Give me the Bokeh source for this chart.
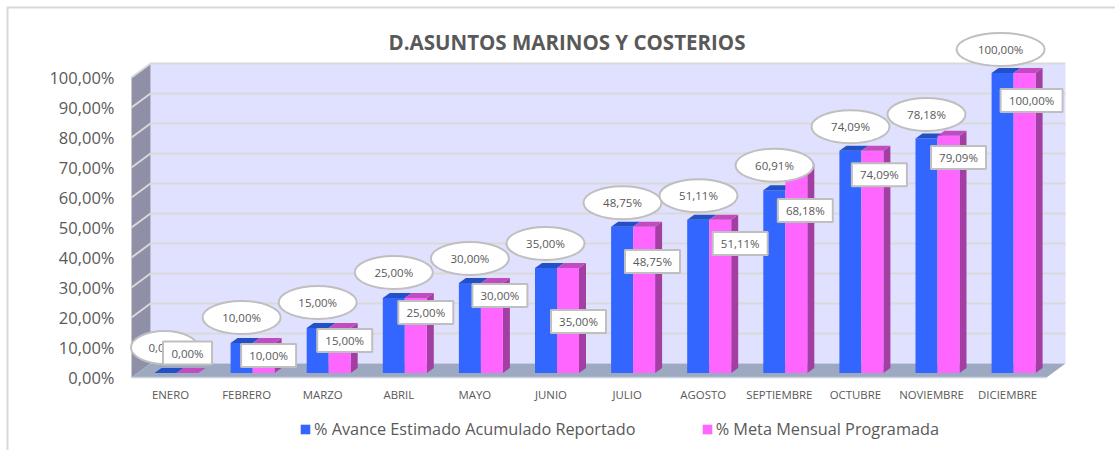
from bokeh.plotting import figure
from bokeh.models import (ColumnDataSource, Range1d, FixedTicker, Legend, LegendItem, Label)
from bokeh.embed import file_html
from bokeh.resources import INLINE
from bokeh.core.properties import value

months = ["ENERO", "FEBRERO", "MARZO", "ABRIL", "MAYO", "JUNIO", "JULIO", "AGOSTO",
          "SEPTIEMBRE", "OCTUBRE", "NOVIEMBRE", "DICIEMBRE"]
avance = [0, 10, 15, 25, 30, 35, 48.75, 51.11, 60.91, 74.09, 78.18, 100]
meta = [0, 10, 15, 25, 30, 35, 48.75, 51.11, 68.18, 74.09, 79.09, 100]
avance_labels = ["0,00%", "10,00%", "15,00%", "25,00%", "30,00%", "35,00%", "48,75%", "51,11%",
                 "60,91%", "74,09%", "78,18%", "100,00%"]
meta_labels = ["0,00%", "10,00%", "15,00%", "25,00%", "30,00%", "35,00%", "48,75%", "51,11%",
               "68,18%", "74,09%", "79,09%", "100,00%"]
y_ticks = [0, 10, 20, 30, 40, 50, 60, 70, 80, 90, 100]
y_tick_labels = ["0,00%", "10,00%", "20,00%", "30,00%", "40,00%", "50,00%", "60,00%", "70,00%",
                 "80,00%", "90,00%", "100,00%"]
title_text = "D.ASUNTOS MARINOS Y COSTERIOS"
series_names = ["% Avance Estimado Acumulado Reportado", "% Meta Mensual Programada"]

# layout (pixels)
W, H = 1115, 450
LEFT, RIGHT, BOTTOM = 131, 1065, 377
PX_X, PX_Y = 76.1, 3.0          # pixels per month, pixels per percentage point
X0 = 170                        # pixel of the first month tick
WALL_DX, WALL_DY = 19 / PX_X, 14 / PX_Y
BAR_W = 22 / PX_X
BAR_SHIFT = 6 / PX_X            # bars sit slightly right of their tick
BAR_BASE = 1.5                  # bars stand on the floor, slightly behind its front
BAR_DX, BAR_DY = 7 / PX_X, 5 / PX_Y


def fx(px_value):
    return (px_value - X0) / PX_X


def fy(px_value):
    return (BOTTOM - px_value) / PX_Y


# label placement: pixels from the top of the bar
oval_dx = [-12, -11, -11, -11, -11, -11.5, -10.6, -10.7, -10.8, -10.9, -11, -13]
oval_dy = [25.5, 25.5, 25.5, 25.5, 24.5, 24.5, 24, 24, 25, 24, 24, 23.5]
rect_dx = [11, 16, 16, 21, 19, 21.5, 19.4, 31, 20, 18, 21, 18]
rect_dy = [20, -12.5, -12.5, -14.5, -12.5, -53.5, -34.75, -23.8, -42, -24, -21.8, -27.5]

p = figure(width=W, height=H, output_backend="svg", toolbar_location=None,
           x_range=Range1d(fx(0), fx(W)), y_range=Range1d(fy(H), fy(0)),
           min_border_left=0, min_border_right=0, min_border_top=0, min_border_bottom=0,
           outline_line_color=None, background_fill_color="white", border_fill_color="white")
p.grid.visible = False

FONT = value("Open Sans")
GREY = "#595959"
GRID = "#d9d9d9"

# chart area border
p.patch([fx(6), fx(W), fx(W), fx(8), fx(8), fx(6)], [fy(6), fy(6), fy(8), fy(8), fy(H), fy(H)],
        fill_color=GRID, line_color=None)

# walls and floor
x_l, x_b, x_r = fx(LEFT), fx(LEFT) + WALL_DX, fx(RIGHT)
x_fr = x_r - WALL_DX
top_f, top_b = 100, 100 + WALL_DY
p.patch([x_b, x_r, x_r, x_b], [WALL_DY, WALL_DY, top_b, top_b], fill_color="#e0e0ff", line_color=None)
p.patch([x_l, x_b, x_b, x_l], [0, WALL_DY, top_b, top_f], fill_color="#8f8fa8", line_color=None)
p.patch([x_l, x_fr, x_r, x_b], [0, 0, WALL_DY, WALL_DY], fill_color="#9ca9c1", line_color=None)
p.multi_line([[x_l, x_b, x_r] for t in y_ticks[1:]],
             [[t, t + WALL_DY, t + WALL_DY] for t in y_ticks[1:]],
             line_color=GRID, line_width=2)
p.line([x_l, x_fr], [0, 0], line_color="#c8d0de", line_width=1.5)

# bars
centers = [i + BAR_SHIFT for i in range(len(months))]
blue_src = ColumnDataSource(dict(x=[c - BAR_W / 2 for c in centers], top=[v + BAR_BASE for v in avance]))
pink_src = ColumnDataSource(dict(x=[c + BAR_W / 2 for c in centers], top=[v + BAR_BASE for v in meta]))


def tops(cols, vals):
    return ([[c - BAR_W / 2, c + BAR_W / 2, c + BAR_W / 2 + BAR_DX, c - BAR_W / 2 + BAR_DX] for c in cols],
            [[v + BAR_BASE, v + BAR_BASE, v + BAR_BASE + BAR_DY, v + BAR_BASE + BAR_DY] for v in vals])


def sides(cols, vals):
    return ([[c + BAR_W / 2, c + BAR_W / 2 + BAR_DX, c + BAR_W / 2 + BAR_DX, c + BAR_W / 2] for c in cols],
            [[BAR_BASE, BAR_BASE + BAR_DY, v + BAR_BASE + BAR_DY, v + BAR_BASE] for v in vals])


bx = [c - BAR_W / 2 for c in centers]
px = [c + BAR_W / 2 for c in centers]
r_blue = p.vbar(x="x", top="top", bottom=BAR_BASE, width=BAR_W, source=blue_src,
                fill_color="#3366ff", line_color=None)
xs, ys = tops(bx, avance)
p.patches(xs, ys, fill_color="#2350c4", line_color=None)
xs, ys = sides(px, meta)
p.patches(xs, ys, fill_color="#a33fa3", line_color=None)
r_pink = p.vbar(x="x", top="top", bottom=BAR_BASE, width=BAR_W, source=pink_src,
                fill_color="#ff66ff", line_color=None)
xs, ys = tops(px, meta)
p.patches(xs, ys, fill_color="#c04cc0", line_color=None)

# ovals (first series)
ox = [c + d / PX_X for c, d in zip(centers, oval_dx)]
oy = [v + BAR_BASE + d / PX_Y for v, d in zip(avance, oval_dy)]
ow = [88 if len(t) > 6 else 67 if len(t) < 6 else 78 for t in avance_labels]
osrc = ColumnDataSource(dict(x=ox, y=oy, w=ow, t=avance_labels))
p.ellipse(x="x", y="y", width="w", height=33, width_units="screen", height_units="screen",
          source=osrc, fill_color="white", line_color="#bfbfbf", line_width=2)
p.text(x="x", y="y", text="t", source=osrc, text_font=FONT, text_font_size="11.5px",
       text_color=GREY, text_align="center", text_baseline="middle")

# boxes (second series)
rx = [c + d / PX_X for c, d in zip(centers, rect_dx)]
ry = [v + BAR_BASE + d / PX_Y for v, d in zip(meta, rect_dy)]
rw = [62 if len(t) > 6 else 49 if len(t) < 6 else 55 for t in meta_labels]
rsrc = ColumnDataSource(dict(x=rx, y=ry, w=rw, t=meta_labels))
p.rect(x="x", y="y", width="w", height=23, width_units="screen", height_units="screen",
       source=rsrc, fill_color="white", line_color="#bfbfbf", line_width=2)
p.text(x="x", y="y", text="t", source=rsrc, text_font=FONT, text_font_size="11.5px",
       text_color=GREY, text_align="center", text_baseline="middle")

# axes (the frame fills the page, so their labels are pulled back inside it)
xa = p.xaxis[0]
xa.ticker = FixedTicker(ticks=list(range(len(months))))
xa.major_label_overrides = {i: m for i, m in enumerate(months)}
xa.axis_line_color = None
xa.major_tick_line_color = None
xa.minor_tick_line_color = None
xa.major_label_text_font = "Open Sans"
xa.major_label_text_font_size = "11.4px"
xa.major_label_text_color = GREY
xa.major_label_standoff = -70

ya = p.yaxis[0]
ya.ticker = FixedTicker(ticks=y_ticks)
ya.major_label_overrides = dict(zip(y_ticks, y_tick_labels))
ya.axis_line_color = None
ya.major_tick_line_color = None
ya.minor_tick_line_color = None
ya.major_label_text_font = "Open Sans"
ya.major_label_text_font_size = "16.5px"
ya.major_label_text_color = GREY
ya.major_label_standoff = -120

# title
p.add_layout(Label(x=566.5, y=41, x_units="canvas", y_units="canvas", text=title_text,
                   text_font="Open Sans", text_font_style="bold", text_font_size="20.5px",
                   text_color=GREY, text_align="center", text_baseline="middle"))

# legend
legend = Legend(items=[LegendItem(label=series_names[0], renderers=[r_blue]),
                       LegendItem(label=series_names[1], renderers=[r_pink])],
                orientation="horizontal", location=(299, 10), margin=0, padding=0,
                spacing=65, glyph_width=12, glyph_height=12, label_standoff=3,
                label_text_font="Open Sans", label_text_font_size="16.3px",
                label_text_color=GREY, background_fill_alpha=0, border_line_color=None)
p.add_layout(legend, "center")

open("out.html", "w").write(file_html(p, INLINE))
